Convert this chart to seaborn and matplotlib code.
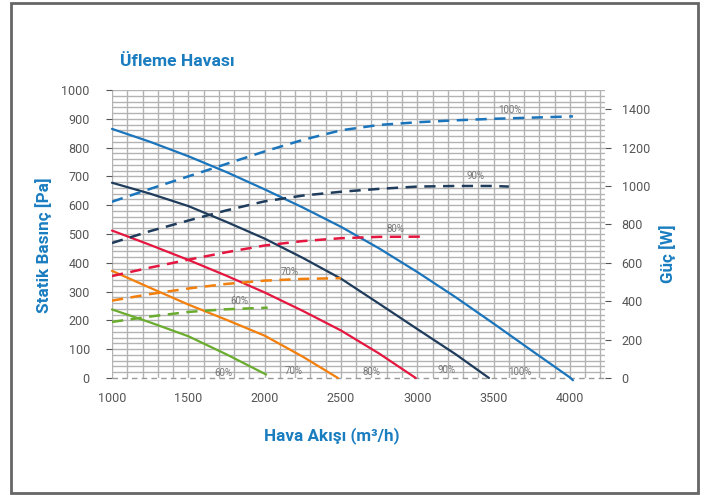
import numpy as np
import pandas as pd
import seaborn as sns
import matplotlib.pyplot as plt

# Static pressure curves (Pa) per fan speed
speeds = ["100%", "90%", "80%", "70%", "60%"]
p_x_100 = [1000, 1250, 1500, 1750, 2000, 2250, 2500, 2750, 3000, 3250, 3500, 3750, 4000, 4020]
p_y_100 = [865, 820, 770, 715, 655, 592, 525, 450, 368, 281, 189, 95, 2, -8]
p_x_90 = [1000, 1250, 1500, 1750, 2000, 2250, 2500, 2750, 3000, 3250, 3470]
p_y_90 = [678, 640, 597, 542, 484, 417, 345, 258, 170, 83, 0]
p_x_80 = [1000, 1250, 1500, 1750, 2000, 2250, 2500, 2750, 2990]
p_y_80 = [512, 462, 410, 355, 297, 233, 165, 85, 0]
p_x_70 = [1000, 1250, 1500, 1750, 2000, 2250, 2480]
p_y_70 = [372, 313, 255, 202, 147, 74, 0]
p_x_60 = [1000, 1250, 1500, 1750, 2010]
p_y_60 = [238, 193, 145, 82, 12]

# Power curves (W)
w_x_100 = [1000, 1250, 1500, 1750, 2000, 2250, 2500, 2750, 3000, 3250, 3500, 3750, 4000, 4020]
w_y_100 = [918, 985, 1050, 1115, 1180, 1240, 1290, 1318, 1332, 1342, 1350, 1356, 1362, 1363]
w_x_90 = [1000, 1250, 1500, 1750, 2000, 2250, 2500, 2750, 3000, 3250, 3500, 3600]
w_y_90 = [703, 765, 820, 873, 920, 950, 970, 985, 997, 1000, 1000, 997]
w_x_80 = [1000, 1250, 1500, 1750, 2000, 2250, 2500, 2750, 3020]
w_y_80 = [531, 575, 616, 655, 690, 713, 728, 735, 736]
w_x_70 = [1000, 1250, 1500, 1750, 2000, 2250, 2500]
w_y_70 = [403, 437, 466, 490, 507, 516, 520]
w_x_60 = [1000, 1250, 1500, 1750, 2020]
w_y_60 = [292, 320, 344, 358, 366]

# curve labels
top_lbl_x = [3606, 3384, 2860, 2166, 1832]
top_lbl_y = [931, 701, 517, 368, 267]
bot_lbl_x = [3672, 3194, 2703, 2192, 1733]
bot_lbl_y = [21, 26, 21, 24, 17]

colors = {"100%": "#1b75bc", "90%": "#1f3c5c", "80%": "#e5163f",
          "70%": "#f37f0c", "60%": "#6aac2e"}
title_blue = "#1a7dc0"
tick_gray = "#555555"

p_data = {"100%": (p_x_100, p_y_100), "90%": (p_x_90, p_y_90), "80%": (p_x_80, p_y_80),
          "70%": (p_x_70, p_y_70), "60%": (p_x_60, p_y_60)}
w_data = {"100%": (w_x_100, w_y_100), "90%": (w_x_90, w_y_90), "80%": (w_x_80, w_y_80),
          "70%": (w_x_70, w_y_70), "60%": (w_x_60, w_y_60)}

rows_p = [(x, y, s) for s in speeds for x, y in zip(*p_data[s])]
rows_w = [(x, y, s) for s in speeds for x, y in zip(*w_data[s])]
df_p = pd.DataFrame(rows_p, columns=["flow", "val", "speed"])
df_w = pd.DataFrame(rows_w, columns=["flow", "val", "speed"])

sns.set_style("white")
plt.rcParams["font.family"] = ["Roboto", "DejaVu Sans"]

fig = plt.figure(figsize=(7.07, 4.95), dpi=100)
ax = fig.add_axes([0.1584, 0.2364, 0.6973, 0.5818])
ax2 = ax.twinx()

ax.set_xlim(1000, 4230)
ax.set_ylim(0, 1000)
ax2.set_ylim(0, 1500)

# grid
grid_c = "#b3b3b3"
for gx in range(1000, 4300, 100):
    ax.plot([gx, gx], [0, 1000], color=grid_c, lw=1.0, zorder=0)
for gy in range(20, 1001, 20):
    ax.plot([1000, 4230], [gy, gy], color=grid_c, lw=1.0, zorder=0)
ax.plot([1000, 4230], [0, 0], color="#999999", lw=1.0, ls=(0, (4, 3)), zorder=1, clip_on=False)

sns.lineplot(data=df_p, x="flow", y="val", hue="speed", palette=colors, sort=False,
             estimator=None, lw=1.6, legend=False, ax=ax)
for ln in ax.lines[-5:]:
    ln.set_clip_on(False)
sns.lineplot(data=df_w, x="flow", y="val", hue="speed", palette=colors, sort=False,
             estimator=None, lw=1.8, legend=False, ax=ax2)
for ln in ax2.lines:
    ln.set_dashes((4.5, 3))

for s, x, y in zip(speeds, top_lbl_x, top_lbl_y):
    ax.text(x, y, s, fontsize=7, color="#777777", ha="center", va="center")
for s, x, y in zip(speeds, bot_lbl_x, bot_lbl_y):
    ax.text(x, y, s, fontsize=7, color="#777777", ha="center", va="center")

for a in (ax, ax2):
    for sp in a.spines.values():
        sp.set_visible(False)

ax.set_xticks(range(1000, 4001, 500))
ax.set_yticks(range(0, 1001, 100))
ax2.set_yticks(range(0, 1401, 200))
ax.tick_params(axis="both", colors=tick_gray, labelsize=9, length=4, width=0.8,
               direction="out", pad=6)
ax.tick_params(axis="y", pad=12)
ax2.tick_params(axis="y", colors=tick_gray, labelsize=9, length=4, width=0.8,
                direction="out", pad=8)
for lab in ax.get_xticklabels() + ax.get_yticklabels() + ax2.get_yticklabels():
    lab.set_color(tick_gray)

ax.set_xlabel("Hava Akışı (m³/h)", fontsize=12.3, fontweight="bold", color=title_blue)
ax.set_ylabel("Statik Basınç [Pa]", fontsize=12.3, fontweight="bold", color=title_blue)
ax2.set_ylabel("Güç [W]", fontsize=12.3, fontweight="bold", color=title_blue)
ax.xaxis.set_label_coords(0.446, -0.17)
ax.yaxis.set_label_coords(-0.122, 0.46)
ax2.yaxis.set_label_coords(1.11, 0.43)
fig.text(0.17, 0.875, "Üfleme Havası", fontsize=12.6, fontweight="bold", color=title_blue,
         ha="left", va="center")

# outer frame
frame = plt.Rectangle((0.016, 0.004), 0.971, 0.99, transform=fig.transFigure,
                      fill=False, edgecolor="#666666", lw=2)
fig.patches.append(frame)

fig.savefig("out.png", dpi=100)
